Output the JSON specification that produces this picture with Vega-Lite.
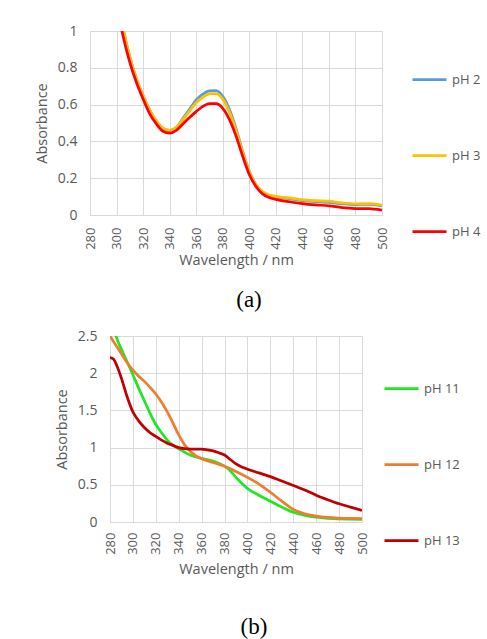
{
  "$schema": "https://vega.github.io/schema/vega-lite/v6.json",
  "autosize": {"type": "pad"},
  "padding": {"left": 34, "top": 24, "right": 0, "bottom": 0},
  "background": "white",
  "config": {
    "font": "Open Sans",
    "view": {"stroke": null},
    "axis": {
      "ticks": false,
      "gridColor": "#d9d9d9",
      "domainColor": "#d9d9d9",
      "labelColor": "#595959",
      "titleColor": "#595959",
      "labelFont": "Open Sans",
      "titleFont": "Open Sans",
      "titleFontWeight": "normal",
      "labelFontSize": 14,
      "titleFontSize": 14.5
    },
    "axisX": {"labelAngle": -90, "labelFontSize": 13, "labelPadding": 12, "titlePadding": 4},
    "axisY": {"labelPadding": 13, "titlePadding": 8},
    "legend": {
      "title": null,
      "orient": "none",
      "padding": 0,
      "symbolType": "stroke",
      "symbolSize": 1156,
      "symbolStrokeWidth": 3,
      "labelFont": "Open Sans",
      "labelFontSize": 13,
      "labelColor": "#595959",
      "labelOffset": 4,
      "rowPadding": 50
    },
    "title": {"font": "Liberation Serif", "fontSize": 23, "fontWeight": "normal", "color": "#000000", "orient": "bottom"},
    "line": {"strokeWidth": 2.75, "interpolate": "monotone", "clip": true}
  },
  "datasets": {
    "a": [
      {"wl":280,"s":"pH 2","a":2.3},{"wl":290,"s":"pH 2","a":1.7},{"wl":300,"s":"pH 2","a":1.2},{"wl":305,"s":"pH 2","a":1.01},{"wl":310,"s":"pH 2","a":0.86},{"wl":315,"s":"pH 2","a":0.74},{"wl":320,"s":"pH 2","a":0.65},{"wl":325,"s":"pH 2","a":0.57},{"wl":330,"s":"pH 2","a":0.51},{"wl":335,"s":"pH 2","a":0.47},{"wl":340,"s":"pH 2","a":0.46},{"wl":345,"s":"pH 2","a":0.475},{"wl":350,"s":"pH 2","a":0.525},{"wl":355,"s":"pH 2","a":0.575},{"wl":360,"s":"pH 2","a":0.625},{"wl":365,"s":"pH 2","a":0.657},{"wl":370,"s":"pH 2","a":0.675},{"wl":375,"s":"pH 2","a":0.676},{"wl":380,"s":"pH 2","a":0.645},{"wl":385,"s":"pH 2","a":0.575},{"wl":390,"s":"pH 2","a":0.47},{"wl":395,"s":"pH 2","a":0.345},{"wl":400,"s":"pH 2","a":0.238},{"wl":405,"s":"pH 2","a":0.165},{"wl":410,"s":"pH 2","a":0.125},{"wl":415,"s":"pH 2","a":0.106},{"wl":420,"s":"pH 2","a":0.098},{"wl":430,"s":"pH 2","a":0.088},{"wl":440,"s":"pH 2","a":0.078},{"wl":450,"s":"pH 2","a":0.072},{"wl":460,"s":"pH 2","a":0.068},{"wl":470,"s":"pH 2","a":0.061},{"wl":480,"s":"pH 2","a":0.057},{"wl":490,"s":"pH 2","a":0.058},{"wl":500,"s":"pH 2","a":0.05},
      {"wl":280,"s":"pH 3","a":2.3},{"wl":290,"s":"pH 3","a":1.7},{"wl":300,"s":"pH 3","a":1.2},{"wl":305,"s":"pH 3","a":1.01},{"wl":310,"s":"pH 3","a":0.86},{"wl":315,"s":"pH 3","a":0.74},{"wl":320,"s":"pH 3","a":0.65},{"wl":325,"s":"pH 3","a":0.57},{"wl":330,"s":"pH 3","a":0.51},{"wl":335,"s":"pH 3","a":0.47},{"wl":340,"s":"pH 3","a":0.46},{"wl":345,"s":"pH 3","a":0.475},{"wl":350,"s":"pH 3","a":0.52},{"wl":355,"s":"pH 3","a":0.565},{"wl":360,"s":"pH 3","a":0.61},{"wl":365,"s":"pH 3","a":0.64},{"wl":370,"s":"pH 3","a":0.658},{"wl":375,"s":"pH 3","a":0.66},{"wl":380,"s":"pH 3","a":0.63},{"wl":385,"s":"pH 3","a":0.56},{"wl":390,"s":"pH 3","a":0.46},{"wl":395,"s":"pH 3","a":0.34},{"wl":400,"s":"pH 3","a":0.235},{"wl":405,"s":"pH 3","a":0.165},{"wl":410,"s":"pH 3","a":0.127},{"wl":415,"s":"pH 3","a":0.108},{"wl":420,"s":"pH 3","a":0.101},{"wl":430,"s":"pH 3","a":0.093},{"wl":440,"s":"pH 3","a":0.083},{"wl":450,"s":"pH 3","a":0.078},{"wl":460,"s":"pH 3","a":0.075},{"wl":470,"s":"pH 3","a":0.066},{"wl":480,"s":"pH 3","a":0.061},{"wl":490,"s":"pH 3","a":0.062},{"wl":500,"s":"pH 3","a":0.054},
      {"wl":280,"s":"pH 4","a":2.2},{"wl":290,"s":"pH 4","a":1.6},{"wl":300,"s":"pH 4","a":1.15},{"wl":305,"s":"pH 4","a":0.97},{"wl":310,"s":"pH 4","a":0.83},{"wl":315,"s":"pH 4","a":0.72},{"wl":320,"s":"pH 4","a":0.63},{"wl":325,"s":"pH 4","a":0.55},{"wl":330,"s":"pH 4","a":0.495},{"wl":335,"s":"pH 4","a":0.455},{"wl":340,"s":"pH 4","a":0.445},{"wl":345,"s":"pH 4","a":0.46},{"wl":350,"s":"pH 4","a":0.495},{"wl":355,"s":"pH 4","a":0.53},{"wl":360,"s":"pH 4","a":0.562},{"wl":365,"s":"pH 4","a":0.59},{"wl":370,"s":"pH 4","a":0.605},{"wl":375,"s":"pH 4","a":0.605},{"wl":380,"s":"pH 4","a":0.58},{"wl":385,"s":"pH 4","a":0.52},{"wl":390,"s":"pH 4","a":0.43},{"wl":395,"s":"pH 4","a":0.32},{"wl":400,"s":"pH 4","a":0.22},{"wl":405,"s":"pH 4","a":0.155},{"wl":410,"s":"pH 4","a":0.115},{"wl":415,"s":"pH 4","a":0.095},{"wl":420,"s":"pH 4","a":0.085},{"wl":430,"s":"pH 4","a":0.072},{"wl":440,"s":"pH 4","a":0.062},{"wl":450,"s":"pH 4","a":0.055},{"wl":460,"s":"pH 4","a":0.05},{"wl":470,"s":"pH 4","a":0.04},{"wl":480,"s":"pH 4","a":0.035},{"wl":490,"s":"pH 4","a":0.034},{"wl":500,"s":"pH 4","a":0.027}
    ],
    "b": [
      {"wl":280,"s":"pH 11","a":2.95},{"wl":285,"s":"pH 11","a":2.52},{"wl":290,"s":"pH 11","a":2.32},{"wl":295,"s":"pH 11","a":2.15},{"wl":300,"s":"pH 11","a":1.98},{"wl":305,"s":"pH 11","a":1.8},{"wl":310,"s":"pH 11","a":1.63},{"wl":315,"s":"pH 11","a":1.46},{"wl":320,"s":"pH 11","a":1.31},{"wl":325,"s":"pH 11","a":1.2},{"wl":330,"s":"pH 11","a":1.1},{"wl":335,"s":"pH 11","a":1.03},{"wl":340,"s":"pH 11","a":0.985},{"wl":345,"s":"pH 11","a":0.94},{"wl":350,"s":"pH 11","a":0.9},{"wl":355,"s":"pH 11","a":0.875},{"wl":360,"s":"pH 11","a":0.855},{"wl":370,"s":"pH 11","a":0.82},{"wl":380,"s":"pH 11","a":0.75},{"wl":385,"s":"pH 11","a":0.69},{"wl":390,"s":"pH 11","a":0.6},{"wl":395,"s":"pH 11","a":0.52},{"wl":400,"s":"pH 11","a":0.45},{"wl":410,"s":"pH 11","a":0.36},{"wl":420,"s":"pH 11","a":0.28},{"wl":430,"s":"pH 11","a":0.2},{"wl":440,"s":"pH 11","a":0.13},{"wl":450,"s":"pH 11","a":0.09},{"wl":460,"s":"pH 11","a":0.065},{"wl":470,"s":"pH 11","a":0.05},{"wl":480,"s":"pH 11","a":0.042},{"wl":490,"s":"pH 11","a":0.038},{"wl":500,"s":"pH 11","a":0.035},
      {"wl":280,"s":"pH 12","a":2.5},{"wl":285,"s":"pH 12","a":2.38},{"wl":290,"s":"pH 12","a":2.26},{"wl":295,"s":"pH 12","a":2.14},{"wl":300,"s":"pH 12","a":2.04},{"wl":305,"s":"pH 12","a":1.96},{"wl":310,"s":"pH 12","a":1.89},{"wl":315,"s":"pH 12","a":1.81},{"wl":320,"s":"pH 12","a":1.72},{"wl":325,"s":"pH 12","a":1.61},{"wl":330,"s":"pH 12","a":1.48},{"wl":335,"s":"pH 12","a":1.33},{"wl":340,"s":"pH 12","a":1.17},{"wl":345,"s":"pH 12","a":1.04},{"wl":350,"s":"pH 12","a":0.95},{"wl":355,"s":"pH 12","a":0.89},{"wl":360,"s":"pH 12","a":0.85},{"wl":370,"s":"pH 12","a":0.8},{"wl":380,"s":"pH 12","a":0.75},{"wl":390,"s":"pH 12","a":0.68},{"wl":400,"s":"pH 12","a":0.6},{"wl":410,"s":"pH 12","a":0.51},{"wl":420,"s":"pH 12","a":0.4},{"wl":430,"s":"pH 12","a":0.28},{"wl":440,"s":"pH 12","a":0.17},{"wl":450,"s":"pH 12","a":0.11},{"wl":460,"s":"pH 12","a":0.08},{"wl":470,"s":"pH 12","a":0.062},{"wl":480,"s":"pH 12","a":0.053},{"wl":490,"s":"pH 12","a":0.048},{"wl":500,"s":"pH 12","a":0.045},
      {"wl":280,"s":"pH 13","a":2.21},{"wl":283,"s":"pH 13","a":2.19},{"wl":286,"s":"pH 13","a":2.1},{"wl":290,"s":"pH 13","a":1.93},{"wl":295,"s":"pH 13","a":1.68},{"wl":300,"s":"pH 13","a":1.48},{"wl":305,"s":"pH 13","a":1.36},{"wl":310,"s":"pH 13","a":1.27},{"wl":315,"s":"pH 13","a":1.2},{"wl":320,"s":"pH 13","a":1.15},{"wl":325,"s":"pH 13","a":1.1},{"wl":330,"s":"pH 13","a":1.06},{"wl":335,"s":"pH 13","a":1.03},{"wl":340,"s":"pH 13","a":1.0},{"wl":345,"s":"pH 13","a":0.985},{"wl":350,"s":"pH 13","a":0.98},{"wl":360,"s":"pH 13","a":0.98},{"wl":365,"s":"pH 13","a":0.97},{"wl":370,"s":"pH 13","a":0.955},{"wl":375,"s":"pH 13","a":0.93},{"wl":380,"s":"pH 13","a":0.9},{"wl":385,"s":"pH 13","a":0.84},{"wl":390,"s":"pH 13","a":0.78},{"wl":395,"s":"pH 13","a":0.74},{"wl":400,"s":"pH 13","a":0.71},{"wl":410,"s":"pH 13","a":0.66},{"wl":420,"s":"pH 13","a":0.61},{"wl":430,"s":"pH 13","a":0.55},{"wl":440,"s":"pH 13","a":0.49},{"wl":450,"s":"pH 13","a":0.43},{"wl":460,"s":"pH 13","a":0.36},{"wl":470,"s":"pH 13","a":0.3},{"wl":480,"s":"pH 13","a":0.245},{"wl":490,"s":"pH 13","a":0.2},{"wl":500,"s":"pH 13","a":0.155}
    ]
  },
  "spacing": 17,
  "resolve": {"scale": {"color": "independent"}, "legend": {"color": "independent"}},
  "vconcat": [
    {
      "width": 292,
      "height": 184,
      "title": {"text": "(a)", "orient": "bottom", "dx": 13, "offset": 22},
      "data": {"name": "a"},
      "mark": {"type": "line", "clip": true},
      "encoding": {
        "x": {"field": "wl", "type": "quantitative", "scale": {"domain": [280, 500], "nice": false},
              "axis": {"values": [280,300,320,340,360,380,400,420,440,460,480,500], "title": "Wavelength / nm"}},
        "y": {"field": "a", "type": "quantitative", "scale": {"domain": [0, 1], "nice": false},
              "axis": {"values": [0,0.2,0.4,0.6,0.8,1], "format": "~g", "title": "Absorbance"}},
        "color": {"field": "s", "type": "nominal",
                  "scale": {"domain": ["pH 2","pH 3","pH 4"], "range": ["#5B9BD5","#FFC000","#FF0000"]},
                  "legend": {"legendX": 321, "legendY": 30}}
      }
    },
    {
      "spacing": -37,
      "hconcat": [
        {"width": 1, "height": 1, "data": {"values": []}, "mark": {"type": "point", "opacity": 0}},
        {
          "width": 252,
          "height": 186,
          "title": {"text": "(b)", "orient": "bottom", "dx": 18, "offset": 40},
          "data": {"name": "b"},
          "mark": {"type": "line", "clip": true},
          "encoding": {
            "x": {"field": "wl", "type": "quantitative", "scale": {"domain": [280, 500], "nice": false},
                  "axis": {"values": [280,300,320,340,360,380,400,420,440,460,480,500], "title": "Wavelength / nm", "labelPadding": 10, "titlePadding": 8}},
            "y": {"field": "a", "type": "quantitative", "scale": {"domain": [0, 2.5], "nice": false},
                  "axis": {"values": [0,0.5,1,1.5,2,2.5], "format": "~g", "title": "Absorbance"}},
            "color": {"field": "s", "type": "nominal",
                      "scale": {"domain": ["pH 11","pH 12","pH 13"], "range": ["#22E622","#ED7D31","#C00000"]},
                      "legend": {"legendX": 293, "legendY": 34}}
          }
        }
      ]
    }
  ]
}
